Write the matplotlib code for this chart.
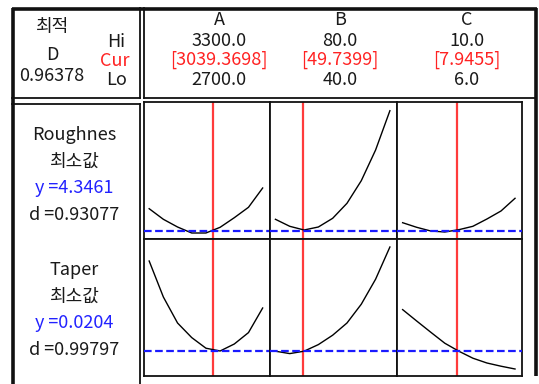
import numpy as np
import matplotlib
matplotlib.use("Agg")
import matplotlib.pyplot as plt

plt.rcParams['font.family'] = ['Noto Sans CJK KR', 'DejaVu Sans']
plt.rcParams['lines.scale_dashes'] = False

# ---------------- data ----------------
factors = ['A', 'B', 'C']
hi_vals = [3300.0, 80.0, 10.0]
lo_vals = [2700.0, 40.0, 6.0]
cur_vals = [3039.3698, 49.7399, 7.9455]
hi_labels = ['3300.0', '80.0', '10.0']
lo_labels = ['2700.0', '40.0', '6.0']
cur_labels = ['[3039.3698]', '[49.7399]', '[7.9455]']

overall_D = '0.96378'
responses = ['Roughnes', 'Taper']
goal_label = '최소값'
y_labels = ['y =4.3461', 'y =0.0204']
d_labels = ['d =0.93077', 'd =0.99797']
y_current = [4.3461, 0.0204]

# predicted response traces (9 evenly spaced settings from Lo to Hi)
rough_A = [4.786, 4.574, 4.420, 4.300, 4.300, 4.414, 4.606, 4.814, 5.200]
rough_B = [4.574, 4.434, 4.360, 4.420, 4.594, 4.894, 5.346, 5.960, 6.746]
rough_C = [4.506, 4.414, 4.340, 4.320, 4.366, 4.434, 4.580, 4.740, 4.994]
taper_A = [0.0654, 0.0474, 0.0344, 0.0271, 0.0218, 0.0204, 0.0239, 0.0296, 0.0419]
taper_B = [0.0203, 0.0191, 0.0203, 0.0236, 0.0283, 0.0344, 0.0438, 0.0563, 0.0724]
taper_C = [0.0411, 0.0354, 0.0298, 0.0243, 0.0203, 0.0168, 0.0144, 0.0128, 0.0114]
traces = [[rough_A, rough_B, rough_C], [taper_A, taper_B, taper_C]]

# ---------------- layout ----------------
W, H = 539, 384
fig = plt.figure(figsize=(W / 100, H / 100), dpi=100)
fig.patch.set_facecolor('white')

def fbox(x0, y0, x1, y1):
    return [x0 / W, 1 - y1 / H, (x1 - x0) / W, (y1 - y0) / H]

ov = fig.add_axes([0, 0, 1, 1])
ov.set_xlim(0, W)
ov.set_ylim(H, 0)
ov.axis('off')

K = '#111111'
thin = 1.3
thick = 2.6
# outer frame
ov.plot([13, 13], [7.5, H + 5], color=K, lw=thick, solid_capstyle='butt')
ov.plot([12, 536.5], [8.5, 8.5], color=K, lw=thick, solid_capstyle='butt')
ov.plot([535.5, 535.5], [7.5, 376], color=K, lw=thick, solid_capstyle='butt')
# header boxes
ov.plot([140, 140], [8, 98], color=K, lw=thin)
ov.plot([12, 140], [98, 98], color=K, lw=thin)
ov.plot([144, 144], [8, 98], color=K, lw=thin)
ov.plot([144, 536], [98, 98], color=K, lw=thin)
# label box
ov.plot([12, 140], [103.5, 103.5], color=K, lw=thin)
ov.plot([140, 140], [103.5, H + 5], color=K, lw=thin)

fs = 13
RED = '#ff2222'
BLUE = '#2222ff'
TXT = '#1a1a1a'

# header left text
ov.text(52, 27, '최적', ha='center', va='center', fontsize=fs, color=TXT)
ov.text(52, 55, 'D', ha='center', va='center', fontsize=fs, color=TXT)
ov.text(52, 76, overall_D, ha='center', va='center', fontsize=fs, color=TXT)
ov.text(116, 42, 'Hi', ha='center', va='center', fontsize=fs, color=TXT)
ov.text(115, 61, 'Cur', ha='center', va='center', fontsize=fs, color=RED)
ov.text(117, 80, 'Lo', ha='center', va='center', fontsize=fs, color=TXT)

# column headers
col_x = [219, 340, 467]
for i, f in enumerate(factors):
    ov.text(col_x[i], 20, f, ha='center', va='center', fontsize=fs, color=TXT)
    ov.text(col_x[i], 41, hi_labels[i], ha='center', va='center', fontsize=fs, color=TXT)
    ov.text(col_x[i], 60, cur_labels[i], ha='center', va='center', fontsize=fs, color=RED)
    ov.text(col_x[i], 80, lo_labels[i], ha='center', va='center', fontsize=fs, color=TXT)

# row labels
row_y0 = [135, 270]
for r in range(2):
    y0 = row_y0[r]
    ov.text(74, y0, responses[r], ha='center', va='center', fontsize=fs, color=TXT)
    ov.text(74, y0 + 27, goal_label, ha='center', va='center', fontsize=fs, color=TXT)
    ov.text(74, y0 + 53, y_labels[r], ha='center', va='center', fontsize=fs, color=BLUE)
    ov.text(74, y0 + 80, d_labels[r], ha='center', va='center', fontsize=fs, color=TXT)

# plot grid
col_edges = [143.5, 269.7, 397.0, 522.0]
row_edges = [102.0, 239.3, 376.0]
ylims = [(4.174, 6.920), (0.0079, 0.07625)]
pad_l, pad_r = 0.05, 0.062

for r in range(2):
    for c in range(3):
        ax = fig.add_axes(fbox(col_edges[c], row_edges[r], col_edges[c + 1], row_edges[r + 1]))
        lo, hi = lo_vals[c], hi_vals[c]
        span = hi - lo
        xs = np.linspace(lo, hi, len(traces[r][c]))
        ax.plot(xs, traces[r][c], color='black', lw=1.0, zorder=3)
        ax.axvline(cur_vals[c], color='#ff3b3b', lw=1.6, zorder=2)
        ax.axhline(y_current[r], color='#1a1aff', lw=1.6, dashes=(5.5, 2.5), zorder=4)
        ax.set_xlim(lo - pad_l * span, hi + pad_r * span)
        ax.set_ylim(*ylims[r])
        ax.set_xticks([])
        ax.set_yticks([])
        for s in ax.spines.values():
            s.set_color(K)
            s.set_linewidth(1.3)

fig.savefig('out.png', dpi=100, facecolor='white')
